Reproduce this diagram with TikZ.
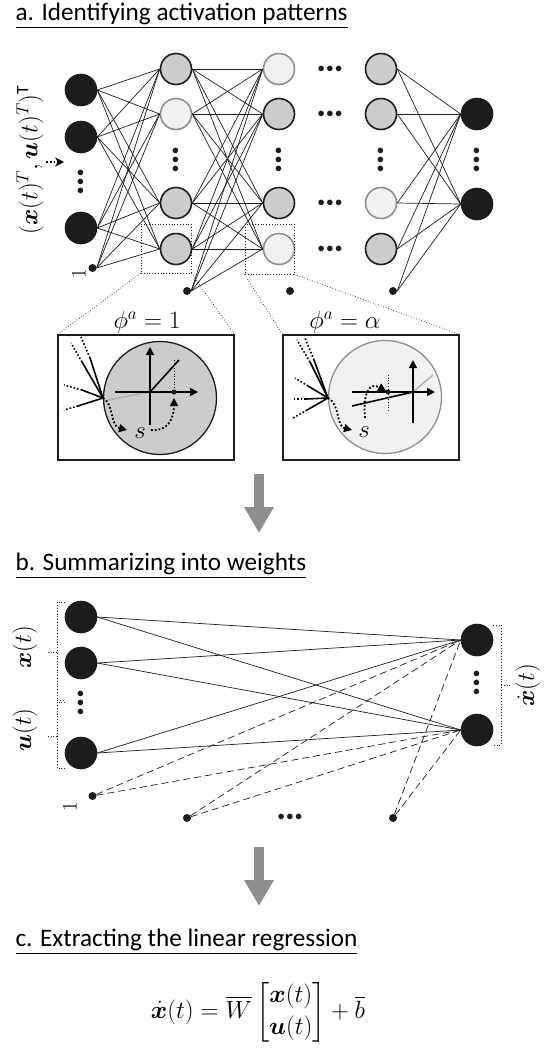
\documentclass[tikz,border=0pt]{standalone}
\usepackage{fontspec}
\usepackage{amsmath,bm}
\setmainfont{Carlito}
\usetikzlibrary{arrows.meta}
\definecolor{ink}{HTML}{1C1C1C}
\definecolor{ongray}{HTML}{CDCBCD}
\definecolor{offgray}{HTML}{F0F1F3}
\definecolor{rimgray}{HTML}{8F8F8F}
\definecolor{arrowgray}{HTML}{8E8E90}
\definecolor{fadeline}{HTML}{B4B4B4}
\newcommand{\dotrun}{$\mathord{\bullet}\mkern2mu\mathord{\bullet}\mkern2mu\mathord{\bullet}$}
\tikzset{
  neuron/.style={circle, minimum size=31pt, inner sep=0pt, draw=ink, line width=1.6pt},
  darkunit/.style={neuron, fill=ink},
  onunit/.style={neuron, fill=ongray},
  offunit/.style={neuron, fill=offgray, draw=rimgray},
  biasdot/.style={circle, fill=ink, minimum size=8pt, inner sep=0pt},
  wire/.style={line width=0.7pt, draw=ink},
  weightwire/.style={wire, dash pattern=on 7pt off 4pt},
  zoomframe/.style={draw=ink, dotted, line width=0.8pt, inner sep=0pt},
  zoomray/.style={draw=ink, dotted, line width=0.7pt},
  insetbox/.style={draw=ink, line width=1.1pt, inner sep=0pt, fill=white},
  bracket/.style={draw=ink, dotted, line width=0.8pt},
  heading/.style={anchor=base west, font=\fontsize{25.2}{30}\selectfont},
  mathlabel/.style={font=\fontsize{25}{30}\selectfont, inner sep=0pt},
  dotsrow/.style={font=\fontsize{13.5}{15}\selectfont, text=ink, inner sep=0pt},
  axis/.style={line width=1.6pt, -{Triangle[length=8pt,width=8pt]}},
  fanline/.style={line width=1.6pt},
  pathdots/.style={line width=1.8pt, dotted, -{Triangle[length=8pt,width=8pt]}},
  bigarrow/.style={line width=10pt, draw=arrowgray, -{Triangle[length=26pt,width=28pt]}}
}

\begin{document}
\begin{tikzpicture}[x=1pt, y=-1pt]
  \useasboundingbox (0,0) rectangle (547,1053);

  % a. activation patterns
  \node[heading] (titleA) at (12,20) {\underline{a. Identifying activation patterns}};

  \node[darkunit] (in1) at (81,90) {};
  \node[darkunit] (in2) at (81,137) {};
  \node[dotsrow, rotate=90] (indots) at (81,182) {\dotrun};
  \node[darkunit] (in3) at (81,228) {};
  \node[biasdot] (b0) at (92.5,268) {};
  \node[mathlabel, rotate=90, font=\fontsize{21}{25}\selectfont] (oneA) at (79,274) {$1$};

  \node[onunit] (h11) at (176,69) {};
  \node[offunit] (h12) at (176,114) {};
  \node[dotsrow, rotate=90] (h1dots) at (176,160) {\dotrun};
  \node[onunit] (h13) at (176,203) {};
  \node[onunit] (h14) at (176,249) {};
  \node[biasdot] (b1) at (187,291) {};

  \node[offunit] (h21) at (279,69) {};
  \node[onunit] (h22) at (279,114) {};
  \node[dotsrow, rotate=90] (h2dots) at (279,160) {\dotrun};
  \node[onunit] (h23) at (279,203) {};
  \node[offunit] (h24) at (279,249) {};
  \node[biasdot] (b2) at (290,291) {};

  \node[dotsrow] (gap1) at (330,69) {\dotrun};
  \node[dotsrow] (gap2) at (330,114) {\dotrun};
  \node[dotsrow] (gap3) at (330,203) {\dotrun};
  \node[dotsrow] (gap4) at (330,249) {\dotrun};

  \node[onunit] (h31) at (381,69) {};
  \node[onunit] (h32) at (381,114) {};
  \node[dotsrow, rotate=90] (h3dots) at (381,160) {\dotrun};
  \node[offunit] (h33) at (381,203) {};
  \node[onunit] (h34) at (381,249) {};
  \node[biasdot] (b3) at (393,291) {};

  \node[darkunit] (out1) at (477,114) {};
  \node[dotsrow, rotate=90] (outdots) at (477,160) {\dotrun};
  \node[darkunit] (out2) at (477,204) {};

  \foreach \s in {in1,in2,in3,b0}
    \foreach \t in {h11,h12,h13,h14}
      \draw[wire] (\s.east) -- (\t.west);
  \foreach \s in {h11,h12,h13,h14,b1}
    \foreach \t in {h21,h22,h23,h24}
      \draw[wire] (\s.east) -- (\t.west);
  \foreach \s in {h31,h32,h33,h34,b3}
    \foreach \t in {out1,out2}
      \draw[wire] (\s.east) -- (\t.west);

  \node[mathlabel, rotate=90] (stateA) at (30,160)
    {$(\bm{x}(t)^T,\bm{u}(t)^T)^{\mathrm{T}}$};
  \coordinate (feedtail) at (46,162);
  \coordinate (feedhead) at (64,162);
  \draw[line width=1.8pt, dotted, -{Stealth[length=9pt,width=9pt]}] (feedtail) -- (feedhead);

  \node[zoomframe, minimum width=50pt, minimum height=49pt] (focusA) at (166,248.5) {};
  \node[zoomframe, minimum width=49pt, minimum height=50pt] (focusB) at (269.5,249) {};

  \node[insetbox, minimum width=176pt, minimum height=125pt] (insetA) at (146,397.5) {};
  \node[insetbox, minimum width=176pt, minimum height=125pt] (insetB) at (371,397.5) {};
  \draw[zoomray] (focusA.south west) -- (insetA.north west);
  \draw[zoomray] (focusA.south east) -- (insetA.north east);
  \draw[zoomray] (focusB.south west) -- (insetB.north west);
  \draw[zoomray] (focusB.south east) -- (insetB.north east);
  \node[mathlabel] (phiA) at (147,322) {$\phi^a = 1$};
  \node[mathlabel] (phiB) at (345,322) {$\phi^a = \alpha$};

  % inset: fully active unit
  \filldraw[fill=ongray, draw=ink, line width=1.3pt] (160,398) circle (56.5);
  \draw[fadeline, line width=1.6pt] (108,400) -- (150,392);
  \draw[axis] (150,425) -- (150,347);
  \draw[axis] (115,392) -- (198,392);
  \draw[fanline] (150,392) -- (179,360);
  \draw[ink, dotted, line width=0.7pt] (174,360) -- (174,392);
  \fill[ink] (174,392) circle (2.5);
  \draw[fanline] (103,398) -- (90,358);
  \draw[fanline, dotted] (90,358) -- (81,337);
  \draw[fanline] (103,398) -- (82,362);
  \draw[fanline, dotted] (82,362) -- (71,343);
  \draw[fanline] (103,398) -- (82,390);
  \draw[fanline, dotted] (82,390) -- (64,385);
  \draw[fanline] (103,398) -- (78,406);
  \draw[fanline, dotted] (78,406) -- (64,410);
  \draw[pathdots] (103,398) .. controls (114,404) and (110,426) .. (127,430);
  \node[mathlabel] (sA) at (140,433) {$s$};
  \draw[pathdots] (151,430) .. controls (168,432) and (174,418) .. (174,398);

  % inset: partially active unit
  \filldraw[fill=offgray, draw=rimgray, line width=1.3pt] (385,397) circle (56.5);
  \draw[fadeline, line width=1.6pt] (413,392) -- (433,375);
  \draw[axis] (413,423) -- (413,360);
  \draw[axis] (352,392) -- (435,392);
  \draw[fanline] (352,406) -- (413,392);
  \draw[ink, dotted, line width=0.7pt] (388,375) -- (388,412);
  \fill[ink] (388,392) circle (2.5);
  \fill[ink] (365,402) circle (1.6);
  \draw[pathdots] (365,418) .. controls (363,396) and (368,381) .. (386,391);
  \draw[fanline] (328,398) -- (310,362);
  \draw[fanline, dotted] (310,362) -- (297,340);
  \draw[fanline] (328,398) -- (314,360);
  \draw[fanline, dotted] (314,360) -- (305,338);
  \draw[fanline] (328,398) -- (308,386);
  \draw[fanline, dotted] (308,386) -- (295,378);
  \draw[fanline] (328,398) -- (306,399);
  \draw[fanline, dotted] (306,399) -- (292,399);
  \draw[fanline] (328,398) -- (307,410);
  \draw[fanline, dotted] (307,410) -- (293,418);
  \draw[pathdots] (328,398) .. controls (340,404) and (336,426) .. (352,430);
  \node[mathlabel] (sB) at (364,432) {$s$};

  \coordinate (stepAtop) at (259,474);
  \coordinate (stepAtip) at (259,533);
  \draw[bigarrow] (stepAtop) -- (stepAtip);

  % b. weights
  \node[heading] (titleB) at (12,570) {\underline{b. Summarizing into weights}};

  \node[darkunit] (l1) at (81,617) {};
  \node[darkunit] (l2) at (81,663) {};
  \node[dotsrow, rotate=90] (ldots) at (81,703) {\dotrun};
  \node[darkunit] (l3) at (81,753) {};
  \node[darkunit] (r1) at (477,640) {};
  \node[dotsrow, rotate=90] (rdots) at (477,683) {\dotrun};
  \node[darkunit] (r2) at (477,730) {};
  \node[biasdot] (c0) at (92.5,796) {};
  \node[mathlabel, rotate=90, font=\fontsize{21}{25}\selectfont] (oneB) at (70,807) {$1$};
  \node[biasdot] (c1) at (187,818) {};
  \node[dotsrow] (cdots) at (290,817) {\dotrun};
  \node[biasdot] (c2) at (393,818) {};

  \foreach \s in {l1,l2,l3}
    \foreach \t in {r1,r2}
      \draw[wire] (\s.east) -- (\t.west);
  \foreach \s in {c0,c1,c2}
    \foreach \t in {r1,r2}
      \draw[weightwire] (\s) -- (\t.west);

  \draw[bracket] (65,602) -- (57,602) -- (57,700) -- (65,700);
  \draw[bracket] (57,652) -- (48,652);
  \draw[bracket] (65,702) -- (57,702) -- (57,768) -- (65,768);
  \draw[bracket] (57,736) -- (48,736);
  \draw[bracket] (493,625) -- (501,625) -- (501,745) -- (493,745);
  \draw[bracket] (501,685) -- (511,685);
  \node[mathlabel, rotate=90, font=\fontsize{26}{30}\selectfont] (xlab) at (25,647) {$\bm{x}(t)$};
  \node[mathlabel, rotate=90, font=\fontsize{26}{30}\selectfont] (ulab) at (25,730) {$\bm{u}(t)$};
  \node[mathlabel, rotate=90, font=\fontsize{26}{30}\selectfont] (xdotlab) at (528,685) {$\dot{\bm{x}}(t)$};

  \coordinate (stepBtop) at (259,847);
  \coordinate (stepBtip) at (259,906);
  \draw[bigarrow] (stepBtop) -- (stepBtip);

  % c. regression
  \node[heading] (titleC) at (12,946) {\underline{c. Extracting the linear regression}};
  \node[mathlabel, font=\fontsize{27}{32}\selectfont] (regression) at (258,1012)
    {$\dot{\bm{x}}(t) = \overline{W}\begin{bmatrix}\bm{x}(t)\\ \bm{u}(t)\end{bmatrix} + \overline{b}$};
\end{tikzpicture}
\end{document}
